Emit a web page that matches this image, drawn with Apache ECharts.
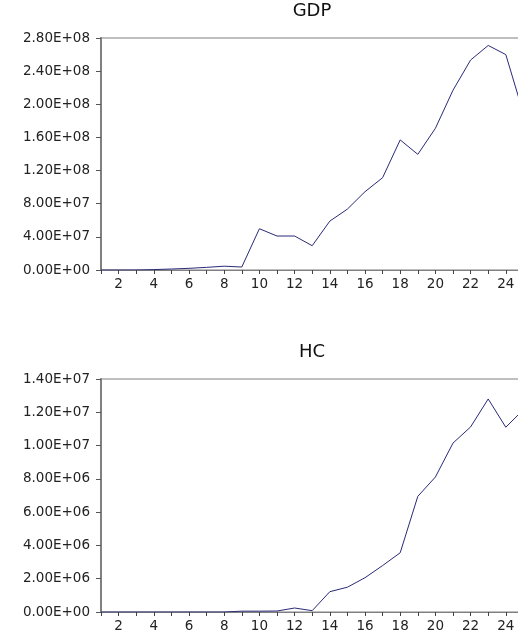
<!DOCTYPE html>
<html>
<head>
<meta charset="utf-8">
<script src="https://cdn.jsdelivr.net/npm/echarts@6/dist/echarts.min.js"></script>
<style>
html,body{margin:0;padding:0;background:#fff;}
#c{width:518px;height:637px;}
</style>
</head>
<body>
<div id="c"></div>
<script>
// observations 1..25 (the last one is partly cropped off the right edge)
const obs = [1,2,3,4,5,6,7,8,9,10,11,12,13,14,15,16,17,18,19,20,21,22,23,24,25];
const gdp = [0,0,0,0.5e6,1.2e6,2.0e6,3.2e6,4.6e6,3.6e6,4.98e7,4.1e7,4.1e7,2.93e7,5.9e7,7.35e7,9.45e7,1.114e8,1.57e8,1.396e8,1.71e8,2.17e8,2.534e8,2.71e8,2.60e8,1.89e8];
const hc = [0,0,0,0,0,0,0,0,0.05e6,0.05e6,0.06e6,0.24e6,0.08e6,1.22e6,1.49e6,2.06e6,2.79e6,3.56e6,6.95e6,8.11e6,10.15e6,11.12e6,12.8e6,11.1e6,12.16e6];
const titles = ['GDP', 'HC'];
const gdpAxis = {min: 0, max: 2.8e8, interval: 4e7};
const hcAxis = {min: 0, max: 1.4e7, interval: 2e6};
const xAxisRange = {min: 1, max: 26, interval: 1};

function sci(v){
  if (v === 0) return '0.00E+00';
  const e = Math.floor(Math.log10(Math.abs(v)) + 1e-9);
  const m = v / Math.pow(10, e);
  return m.toFixed(2) + 'E+' + String(e).padStart(2, '0');
}

const font = 'DejaVu Sans';
const textColor = '#222';
const axisGray = '#808080';
const lineColor = '#2a2a78';

const grids = [
  {left: 101, top: 38, width: 440, height: 232},
  {left: 101, top: 379, width: 440, height: 233}
];

function xAx(i){
  return {
    gridIndex: i, type: 'value', min: xAxisRange.min, max: xAxisRange.max, interval: xAxisRange.interval,
    axisLine: {show: true, lineStyle: {color: axisGray, width: 1}},
    axisTick: {show: true, inside: false, length: 4, lineStyle: {color: '#444', width: 1}},
    splitLine: {show: false},
    axisLabel: {
      show: true, margin: 7, color: textColor, fontFamily: font, fontSize: 13.5,
      formatter: v => (v % 2 === 0 ? String(v) : '')
    }
  };
}
function yAx(i, r){
  return {
    gridIndex: i, type: 'value', min: r.min, max: r.max, interval: r.interval,
    axisLine: {show: true, lineStyle: {color: axisGray, width: 2}},
    axisTick: {show: true, inside: false, length: 5, lineStyle: {color: '#555', width: 1}},
    splitLine: {show: false},
    axisLabel: {margin: 11, color: textColor, fontFamily: font, fontSize: 13.5, formatter: sci}
  };
}

const chart = echarts.init(document.getElementById('c'), null, {renderer: 'canvas'});
chart.setOption({
  animation: false,
  backgroundColor: '#fff',
  grid: grids.map(g => Object.assign({show: true, borderColor: axisGray, borderWidth: 1.2, containLabel: false, outerBoundsMode: 'none'}, g)),
  xAxis: [xAx(0), xAx(1)],
  yAxis: [yAx(0, gdpAxis), yAx(1, hcAxis)],
  graphic: [
    {type: 'text', x: 312, y: 11, style: {text: titles[0], textAlign: 'center', textVerticalAlign: 'middle', fontFamily: font, fontSize: 18, fill: '#111'}},
    {type: 'text', x: 312, y: 352, style: {text: titles[1], textAlign: 'center', textVerticalAlign: 'middle', fontFamily: font, fontSize: 18, fill: '#111'}}
  ],
  series: [
    {type: 'line', xAxisIndex: 0, yAxisIndex: 0, data: obs.map((o, k) => [o, gdp[k]]), showSymbol: false, lineStyle: {color: lineColor, width: 1}, z: 5},
    {type: 'line', xAxisIndex: 1, yAxisIndex: 1, data: obs.map((o, k) => [o, hc[k]]), showSymbol: false, lineStyle: {color: lineColor, width: 1}, z: 5}
  ]
});
</script>
</body>
</html>
